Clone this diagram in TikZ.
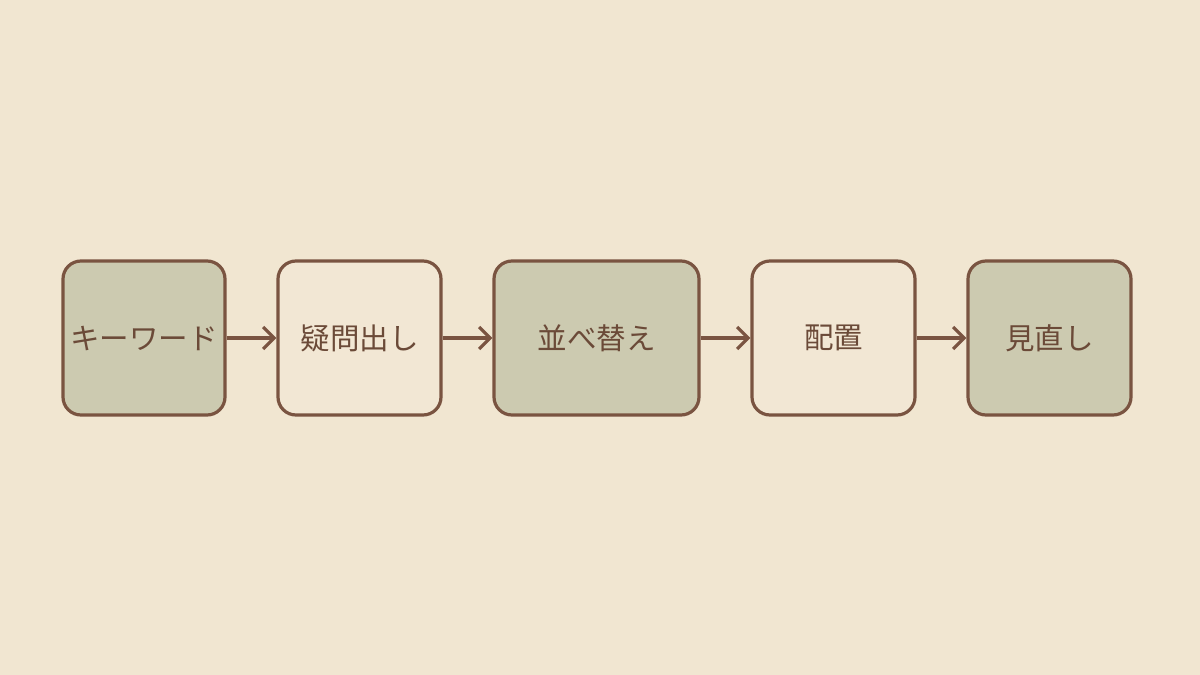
\documentclass[tikz,border=0pt]{standalone}
\usepackage{fontspec}
\newfontfamily\jpfont{Noto Sans CJK JP}
\usetikzlibrary{arrows.meta}
\definecolor{bgc}{HTML}{F1E6D1}
\definecolor{greenf}{HTML}{CCCAB0}
\definecolor{lightf}{HTML}{F2E7D4}
\definecolor{strokec}{HTML}{7A5441}
\definecolor{textc}{HTML}{6B4A38}
\tikzset{
  stepbox/.style={draw=strokec, line width=3.2pt, rounded corners=18pt, minimum height=154pt, text=textc, font=\jpfont\fontsize{29.5}{34}\selectfont, inner sep=0pt},
  gbox/.style={stepbox, fill=greenf},
  lbox/.style={stepbox, fill=lightf},
  conn/.style={draw=strokec, line width=3.2pt, -{Straight Barb[length=11pt,width=22pt,line width=3.2pt]}}
}
\begin{document}
\begin{tikzpicture}[x=1pt,y=-1pt]
\path[fill=bgc] (0,0) rectangle (1200,675);
\useasboundingbox (0,0) rectangle (1200,675);
\node[gbox, minimum width=162pt] (a) at (144,338) {キーワード};
\node[lbox, minimum width=163pt] (b) at (359.5,338) {疑問出し};
\node[gbox, minimum width=205pt] (c) at (596.5,338) {並べ替え};
\node[lbox, minimum width=163pt] (d) at (833.5,338) {配置};
\node[gbox, minimum width=163pt] (e) at (1049.5,338) {見直し};
\draw[conn] (a) -- (b);
\draw[conn] (b) -- (c);
\draw[conn] (c) -- (d);
\draw[conn] (d) -- (e);
\end{tikzpicture}
\end{document}
